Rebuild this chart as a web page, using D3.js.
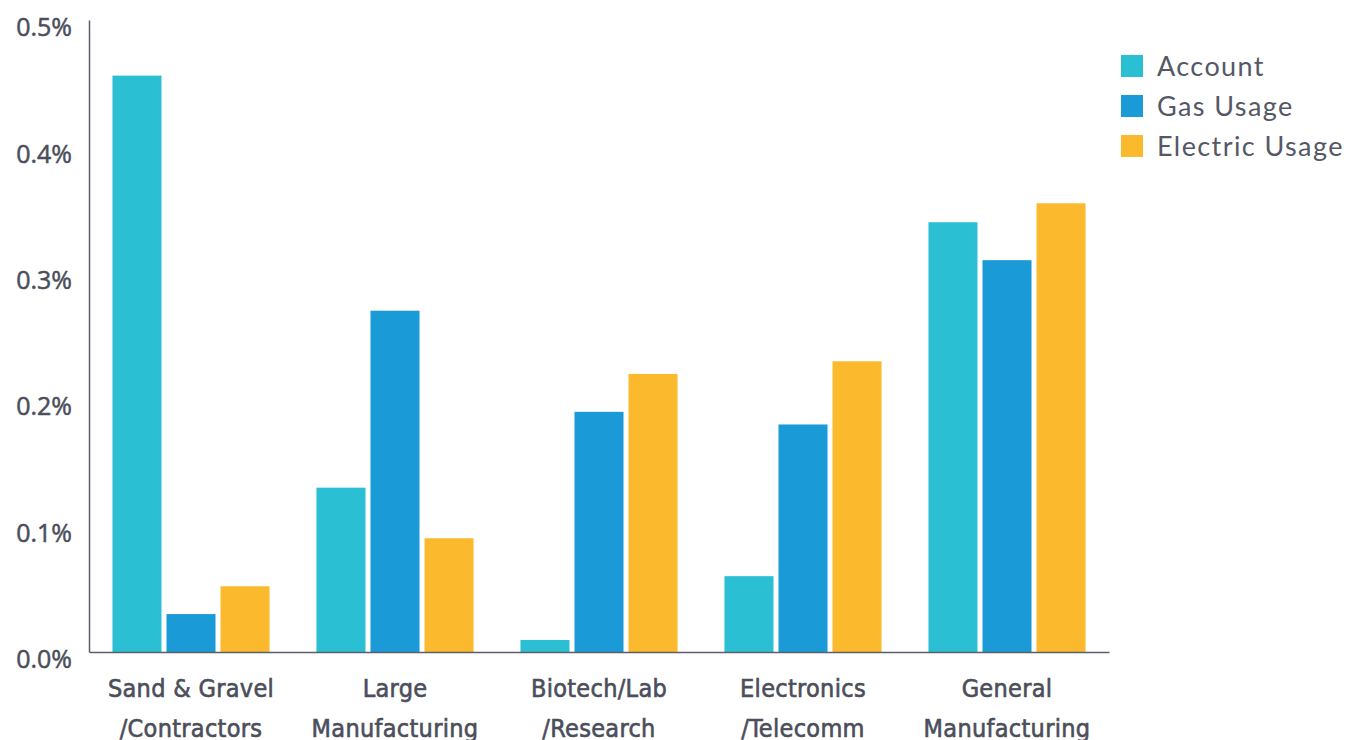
<!DOCTYPE html>
<html><head><meta charset="utf-8">
<script src="https://cdn.jsdelivr.net/npm/d3@7"></script>
<style>
html,body{margin:0;padding:0;background:#fff;}
svg{display:block;}
</style></head>
<body>
<svg id="chart" width="1347" height="740"></svg>
<script>
const categories = [["Sand & Gravel","/Contractors"],["Large","Manufacturing"],["Biotech/Lab","/Research"],["Electronics","/Telecomm"],["General","Manufacturing"]];
const seriesNames = ["Account","Gas Usage","Electric Usage"];
const colors = ["#2bbfd4","#1a9ad6","#fbb92d"];
const account = [0.456, 0.130, 0.0095, 0.060, 0.340];
const gasUsage = [0.030, 0.270, 0.190, 0.180, 0.310];
const electricUsage = [0.052, 0.090, 0.220, 0.230, 0.355];
const yTicks = [0, 0.1, 0.2, 0.3, 0.4, 0.5];

(function () {
const series = [account, gasUsage, electricUsage];
const svg = d3.select("#chart");
const mLeft = 89, mRight = 1109, mTop = 20, mBottom = 652;

const x = d3.scaleBand().domain(d3.range(categories.length)).range([mLeft, mRight]).paddingInner(0.23).paddingOuter(0.115);
const xi = d3.scaleBand().domain(d3.range(seriesNames.length)).range([0, x.bandwidth()]).paddingInner(0.0926).paddingOuter(0);
const y = d3.scaleLinear().domain([0, 0.5]).range([mBottom, mTop]);

const textColor = "#4b4e5b";
const axisColor = "#5c5f6b";

const g = svg.append("g");
categories.forEach((c, i) => {
  series.forEach((s, j) => {
    g.append("rect")
      .attr("x", x(i) + xi(j))
      .attr("y", y(s[i]))
      .attr("width", xi.bandwidth())
      .attr("height", y(0) - y(s[i]))
      .attr("fill", colors[j]);
  });
});

const yAxis = d3.axisLeft(y).tickValues(yTicks).tickSize(0).tickPadding(17).tickFormat(d => d.toFixed(1) + "%");
const ya = svg.append("g").attr("transform", `translate(${mLeft},0)`).call(yAxis);
ya.select(".domain").attr("stroke", axisColor).attr("stroke-width", 1.5);
ya.selectAll("text").attr("fill", textColor).attr("font-family", "'Open Sans', 'DejaVu Sans', sans-serif")
  .attr("font-size", 25).attr("dy", "0.63em")
  .attr("stroke", textColor).attr("stroke-width", 0.5);

const xAxis = d3.axisBottom(x).tickSize(0).tickFormat(() => "");
const xa = svg.append("g").attr("transform", `translate(0,${mBottom})`).call(xAxis);
xa.select(".domain").attr("stroke", axisColor).attr("stroke-width", 1.5);
xa.selectAll(".tick").each(function(d) {
  const t = d3.select(this).append("text")
    .attr("fill", textColor)
    .attr("stroke", textColor).attr("stroke-width", 0.6)
    .attr("font-family", "'Liberation Sans Narrow', 'DejaVu Sans Condensed', sans-serif")
    .attr("font-size", 25)
    .attr("letter-spacing", 0.3)
    .attr("text-anchor", "middle");
  categories[d].forEach((line, k) => {
    t.append("tspan").attr("x", 0).attr("y", 45 + k * 40).text(line);
  });
});

const legend = svg.append("g").attr("transform", "translate(1121,55)");
seriesNames.forEach((name, j) => {
  const row = legend.append("g").attr("transform", `translate(0,${j * 40})`);
  row.append("rect").attr("width", 22).attr("height", 22).attr("fill", colors[j]);
  row.append("text").attr("x", 36).attr("y", 11).attr("dy", "0.36em")
    .attr("fill", "#555866").attr("font-family", "Lato, 'Open Sans', sans-serif")
    .attr("font-size", 27).attr("letter-spacing", 1.4).text(name);
});
})();
</script>
</body></html>
